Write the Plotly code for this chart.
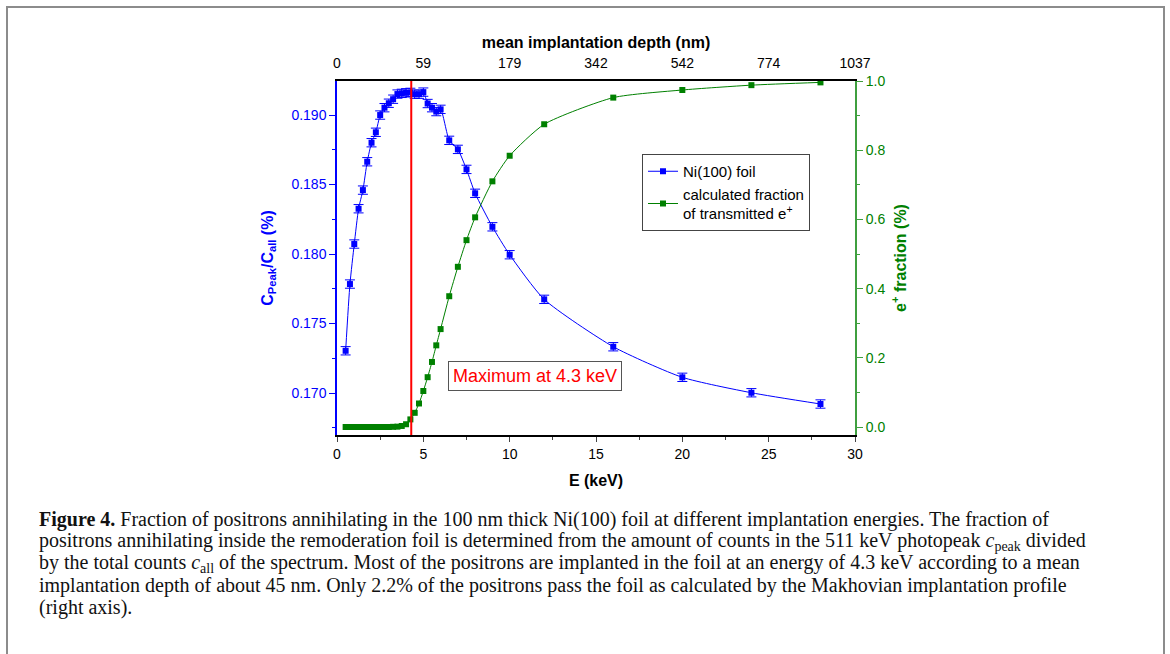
import plotly.graph_objects as go

# ---------------- data ----------------
E_ni = [0.5, 0.75, 1.0, 1.25, 1.5, 1.75, 2.0, 2.25, 2.5, 2.75, 3.0, 3.25, 3.5, 3.75,
        4.0, 4.25, 4.5, 4.75, 5.0, 5.25, 5.5, 5.75, 6.0, 6.5, 7.0, 7.5, 8.0, 9.0,
        10.0, 12.0, 16.0, 20.0, 24.0, 28.0]
ratio_ni = [0.17304, 0.17784, 0.18072, 0.18326, 0.18460, 0.18664, 0.18801, 0.18876,
            0.19000, 0.19053, 0.19085, 0.19114, 0.19151, 0.19156, 0.19160, 0.19163,
            0.19150, 0.19150, 0.19165, 0.19083, 0.19053, 0.19025, 0.19041, 0.18818,
            0.18753, 0.18609, 0.18437, 0.18196, 0.17995, 0.17674, 0.17333, 0.17113,
            0.17002, 0.16921]
err_ni = [0.0003] * len(E_ni)

E_tr = [0.5, 0.75, 1.0, 1.25, 1.5, 1.75, 2.0, 2.25, 2.5, 2.75, 3.0, 3.25, 3.5, 3.75,
        4.0, 4.25, 4.5, 4.75, 5.0, 5.25, 5.5, 5.75, 6.0, 6.5, 7.0, 7.5, 8.0, 9.0,
        10.0, 12.0, 16.0, 20.0, 24.0, 28.0]
frac_tr = [0.0, 0.0, 0.0, 0.0, 0.0, 0.0, 0.0, 0.0, 0.0, 0.0, 0.0, 0.0005, 0.001, 0.003,
           0.008, 0.022, 0.041, 0.068, 0.104, 0.144, 0.188, 0.236, 0.283, 0.378,
           0.463, 0.540, 0.606, 0.710, 0.784, 0.875, 0.952, 0.974, 0.988, 0.996]

top_tick_E = [0, 5, 10, 15, 20, 25, 30]
top_tick_depth = ["0", "59", "179", "342", "542", "774", "1037"]

MAX_E = 4.3

caption_lines = [
    "<b>Figure 4.</b> Fraction of positrons annihilating in the 100 nm thick Ni(100) foil at different implantation energies. The fraction of",
    "positrons annihilating inside the remoderation foil is determined from the amount of counts in the 511 keV photopeak <i>c</i><sub>peak</sub> divided",
    "by the total counts <i>c</i><sub>all</sub> of the spectrum. Most of the positrons are implanted in the foil at an energy of 4.3 keV according to a mean",
    "implantation depth of about 45 nm. Only 2.2% of the positrons pass the foil as calculated by the Makhovian implantation profile",
    "(right axis).",
]

# ---------------- layout geometry ----------------
W, H = 1170, 654
L, R, T, B = 337, 855, 81, 435


def py(p):
    return (B - p) / (B - T)


def px(p):
    return (p - L) / (R - L)


BLUE = "#0000ff"
GREEN = "#008000"
GREEN_AX = "#3f9f3f"
SANS = "Liberation Sans, Arial, sans-serif"
SERIF = "Liberation Serif, Times New Roman, serif"

fig = go.Figure()

fig.add_trace(go.Scatter(
    x=E_tr, y=frac_tr, yaxis="y2", mode="lines+markers",
    name="calculated fraction<br>of transmitted e<sup>+</sup>",
    line=dict(color=GREEN, width=1, shape="spline", smoothing=0.6),
    marker=dict(symbol="square", size=6, color=GREEN),
))

fig.add_trace(go.Scatter(
    x=E_ni, y=ratio_ni, mode="lines+markers", name="Ni(100) foil",
    line=dict(color=BLUE, width=1, shape="spline", smoothing=0.6),
    marker=dict(symbol="square", size=6, color=BLUE),
    error_y=dict(type="data", array=err_ni, visible=True, color=BLUE, thickness=1, width=5),
))

fig.add_trace(go.Scatter(x=[], y=[], xaxis="x2", showlegend=False, hoverinfo="skip"))

fig.add_shape(type="line", xref="x", yref="paper", x0=MAX_E, x1=MAX_E, y0=0, y1=1,
              line=dict(color="#ff0000", width=2))

# outer frame
fig.add_shape(type="rect", xref="paper", yref="paper",
              x0=px(7), x1=px(1164), y0=py(670), y1=py(7),
              line=dict(color="#8c8c8c", width=2), fillcolor="rgba(0,0,0,0)")

fig.add_annotation(xref="x", yref="y", x=6.4, y=0.17122, xanchor="left", yanchor="middle",
                   text="Maximum at 4.3 keV", showarrow=False,
                   font=dict(family=SANS, size=18, color="#ff0000"),
                   bordercolor="#555555", borderwidth=1, borderpad=4, bgcolor="white")

for i, line in enumerate(caption_lines):
    fig.add_annotation(xref="paper", yref="paper", x=px(37), y=py(519 + 22 * i),
                       xanchor="left", yanchor="middle", text=line, showarrow=False,
                       align="left", font=dict(family=SERIF, size=20, color="#111111"))

fig.update_layout(
    width=W, height=H,
    margin=dict(l=L, r=W - R, t=T, b=H - B),
    paper_bgcolor="white", plot_bgcolor="white",
    font=dict(family=SANS, size=14, color="black"),
    showlegend=True,
    legend=dict(x=px(642), y=py(154), xanchor="left", yanchor="top",
                bordercolor="#444444", borderwidth=1, bgcolor="white",
                font=dict(family=SANS, size=15), traceorder="reversed",
                itemwidth=30, tracegroupgap=0),
    xaxis=dict(range=[0, 30], tickvals=[0, 5, 10, 15, 20, 25, 30], ticks="outside",
               ticklen=5, showline=True, linecolor="black", linewidth=1.5,
               minor=dict(dtick=2.5, ticks="outside", ticklen=3), showgrid=False,
               zeroline=False, tickfont=dict(size=14),
               title=dict(text="<b>E (keV)</b>", font=dict(size=16), standoff=14)),
    xaxis2=dict(range=[0, 30], overlaying="x", side="top", anchor="y",
                tickvals=top_tick_E, ticktext=top_tick_depth, ticks="",
                ticklabelstandoff=6,
                showline=True, linecolor="black", linewidth=1.5, showgrid=False,
                zeroline=False, tickfont=dict(size=14),
                title=dict(text="<b>mean implantation depth (nm)</b>", font=dict(size=16),
                           standoff=2)),
    yaxis=dict(range=[0.16698, 0.19245], tickvals=[0.170, 0.175, 0.180, 0.185, 0.190],
               tickformat=".3f", ticks="outside", ticklen=6, tickcolor=BLUE,
               showline=True, linecolor=BLUE, linewidth=1.5,
               minor=dict(dtick=0.0025, ticks="outside", ticklen=3, tickcolor=BLUE),
               showgrid=False, zeroline=False,
               tickfont=dict(size=14, color=BLUE),
               title=dict(text="<b>C<sub>Peak</sub>/C<sub>all</sub> (%)</b>",
                          font=dict(size=16, color=BLUE), standoff=14)),
    yaxis2=dict(range=[-0.0231, 1.0], overlaying="y", side="right", anchor="x",
                tickvals=[0.0, 0.2, 0.4, 0.6, 0.8, 1.0], tickformat=".1f",
                ticks="outside", ticklen=6, tickcolor=GREEN_AX,
                showline=True, linecolor=GREEN_AX, linewidth=2,
                minor=dict(dtick=0.1, ticks="outside", ticklen=3, tickcolor=GREEN_AX),
                showgrid=False, zeroline=False,
                tickfont=dict(size=14, color=GREEN),
                title=dict(text="<b>e<sup>+</sup> fraction (%)</b>",
                           font=dict(size=16, color=GREEN), standoff=10)),
)

fig.write_html("out.html")
